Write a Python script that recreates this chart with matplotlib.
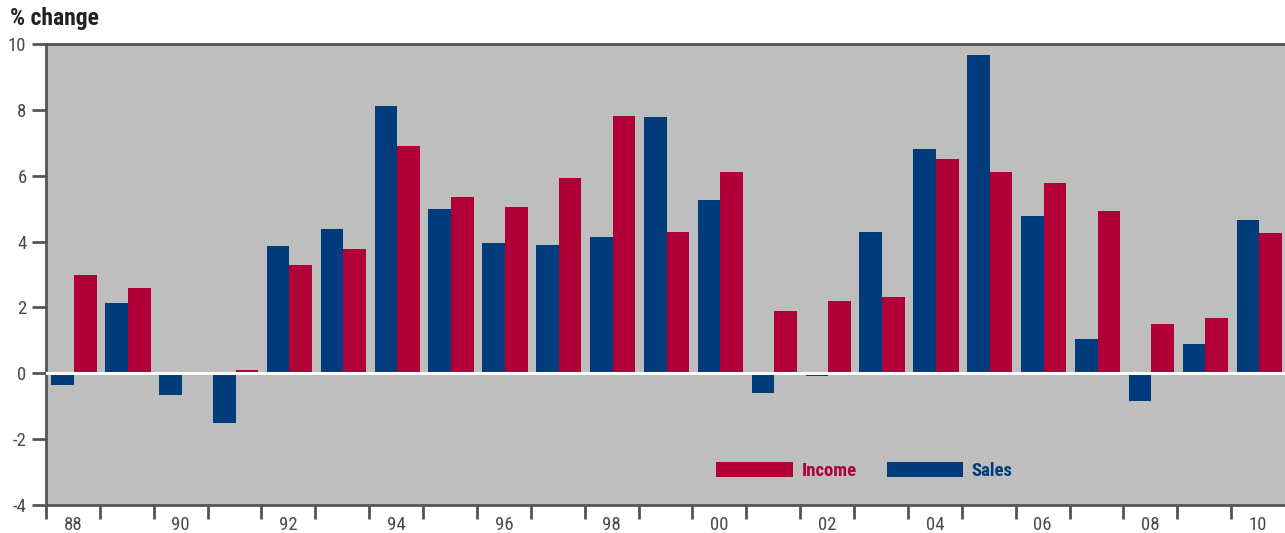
import matplotlib
matplotlib.use("Agg")
import matplotlib.pyplot as plt
from matplotlib import font_manager
from matplotlib.patches import Patch
import numpy as np

years = ["88", "89", "90", "91", "92", "93", "94", "95", "96", "97", "98", "99",
         "00", "01", "02", "03", "04", "05", "06", "07", "08", "09", "10"]
sales = [-0.36, 2.12, -0.65, -1.5, 3.87, 4.38, 8.12, 4.99, 3.96, 3.9, 4.14, 7.78,
         5.26, -0.6, -0.08, 4.29, 6.81, 9.67, 4.78, 1.04, -0.85, 0.89, 4.66]
income = [3.0, 2.6, 0.0, 0.1, 3.29, 3.77, 6.9, 5.35, 5.05, 5.93, 7.81, 4.29,
          6.11, 1.89, 2.2, 2.32, 6.51, 6.11, 5.78, 4.93, 1.5, 1.68, 4.26]
yticks = [-4, -2, 0, 2, 4, 6, 8, 10]

names = {f.name for f in font_manager.fontManager.ttflist}
cands = ["Liberation Sans Narrow", "Roboto Condensed", "Open Sans Condensed",
         "DejaVu Sans Condensed", "Noto Sans Condensed"]
fam = next((c for c in cands if c in names), None)
if fam is None:
    fam = "DejaVu Sans"
    plt.rcParams["font.stretch"] = "condensed"
plt.rcParams["font.family"] = [fam, "DejaVu Sans"]

BLUE = "#003b7b"
RED = "#b10038"
BG = "#bebebe"
AX = "#555555"
TXT = "#4a4a4a"

fig = plt.figure(figsize=(12.85, 5.33), dpi=100)
ax = fig.add_axes([46/1285, 28/533, 1 - 46/1285, (505-44)/533])
ax.set_facecolor(BG)

x = np.arange(len(years))
w = 0.42
ax.bar(x - w/2 + 0.02, sales, width=w, color=BLUE, zorder=2)
ax.bar(x + w/2 + 0.02, income, width=w, color=RED, zorder=2)
ax.axhline(0, color="white", lw=2.2, zorder=3)

ax.set_xlim(-0.5, len(years) - 0.5)
ax.set_ylim(-4, 10)
ax.set_yticks(yticks)
ax.set_yticklabels([str(v) for v in yticks])
ax.tick_params(axis="y", length=10, width=2, color=AX, labelsize=13.5, labelcolor=TXT, pad=4)

ax.set_xticks(x[::2])
ax.set_xticklabels(years[::2])
ax.set_xticks(np.arange(-0.5, len(years) - 0.5, 1), minor=True)
ax.tick_params(axis="x", which="major", length=0, labelsize=13.5, labelcolor=TXT, pad=8)
ax.tick_params(axis="x", which="minor", length=10, width=2, color=AX)

for s in ["left", "bottom", "top"]:
    ax.spines[s].set_color(AX)
    ax.spines[s].set_linewidth(2)
ax.spines["right"].set_visible(False)

fig.text(10/1285, 1 - 19/533, "% change", fontsize=17, fontweight="bold",
         color="#222222", va="center", ha="left")

handles = [Patch(facecolor=RED, edgecolor="none"), Patch(facecolor=BLUE, edgecolor="none")]
leg = ax.legend(handles, ["Income", "Sales"], ncol=2, loc="center left",
                bbox_to_anchor=((716-46)/1239 - 0.0075, (505-471)/461),
                frameon=False, prop={"weight": "bold", "size": 13.5},
                handlelength=4.1, handleheight=0.8, handletextpad=0.45,
                columnspacing=1.6, borderpad=0)
for t, c in zip(leg.get_texts(), [RED, BLUE]):
    t.set_color(c)

fig.savefig("out.png", dpi=100)
